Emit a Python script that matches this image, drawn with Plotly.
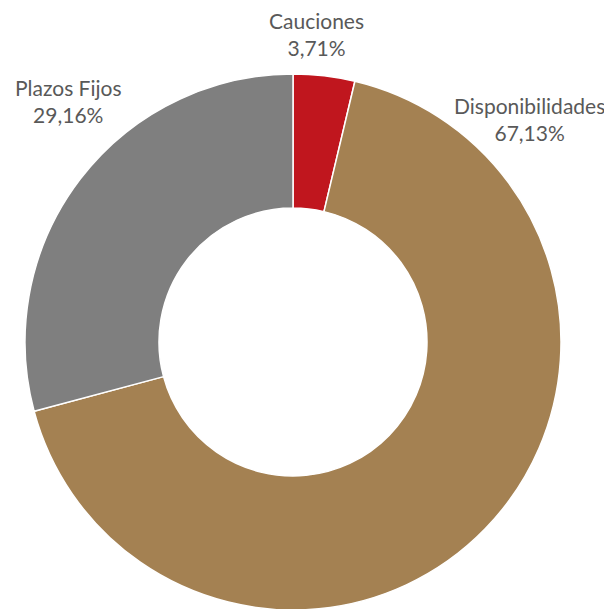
import plotly.graph_objects as go

labels = ['Cauciones', 'Disponibilidades', 'Plazos Fijos']
values = [3.71, 67.13, 29.16]
colors = ['#C0161E', '#A48152', '#7F7F7F']

W, H = 612, 609
OFF = 8  # page body margin shifts the plot by 8px

# label centres in screen pixels
label_px = [(316, 34), (529, 119), (68, 101)]

fig = go.Figure()
fig.add_trace(go.Pie(
    labels=labels,
    values=values,
    hole=0.5,
    sort=False,
    direction='clockwise',
    rotation=0,
    marker=dict(colors=colors, line=dict(color='white', width=1.5)),
    textinfo='none',
    hoverinfo='label+percent',
    showlegend=False,
    domain=dict(x=[(24 - OFF) / W, (562 - OFF) / W],
                y=[1 - (610 - OFF) / H, 1 - (74 - OFF) / H]),
))

for lab, val, (px, py) in zip(labels, values, label_px):
    fig.add_annotation(
        x=(px - OFF) / W, y=1 - (py - OFF) / H, xref='paper', yref='paper',
        xanchor='center', yanchor='middle',
        text=f"{lab}<br>{val:.2f}%".replace('.', ','),
        showarrow=False,
        borderpad=0,
        font=dict(family='Lato', size=21, color='#595959'),
        align='center',
    )

fig.update_layout(
    width=W, height=H,
    margin=dict(l=0, r=0, t=0, b=0),
    paper_bgcolor='white',
    plot_bgcolor='white',
)

fig.write_html("out.html")
